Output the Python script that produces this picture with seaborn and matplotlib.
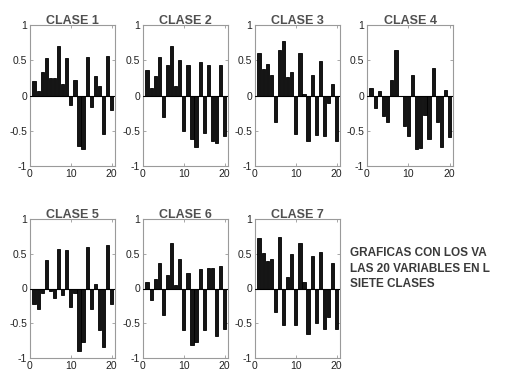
import numpy as np
import pandas as pd
import matplotlib
matplotlib.use("Agg")
import matplotlib.pyplot as plt
import seaborn as sns

variables = list(range(1, 21))
clase1 = [0.20, 0.06, 0.33, 0.53, 0.25, 0.25, 0.70, 0.17, 0.53, -0.13,
          0.22, -0.72, -0.76, 0.55, -0.16, 0.28, 0.13, -0.55, 0.56, -0.21]
clase2 = [0.36, 0.10, 0.28, 0.55, -0.31, 0.43, 0.70, 0.14, 0.50, -0.50,
          0.43, -0.62, -0.73, 0.47, -0.53, 0.43, -0.64, -0.67, 0.43, -0.57]
clase3 = [0.60, 0.37, 0.44, 0.29, -0.37, 0.64, 0.78, 0.26, 0.33, -0.55,
          0.60, 0.02, -0.65, 0.29, -0.56, 0.49, -0.58, -0.10, 0.16, -0.65]
clase4 = [0.10, -0.18, 0.06, -0.29, -0.37, 0.22, 0.64, 0.00, -0.43, -0.57,
          0.29, -0.76, -0.75, -0.28, -0.62, 0.39, -0.37, -0.73, 0.08, -0.59]
clase5 = [-0.22, -0.29, -0.06, 0.41, -0.03, -0.13, 0.57, -0.09, 0.55, -0.27,
          -0.06, -0.90, -0.77, 0.59, -0.29, 0.07, -0.60, -0.84, 0.62, -0.22]
clase6 = [0.09, -0.16, 0.14, 0.36, -0.38, 0.19, 0.66, 0.05, 0.42, -0.59,
          0.22, -0.81, -0.77, 0.28, -0.60, 0.30, 0.29, -0.68, 0.33, -0.58]
clase7 = [0.72, 0.51, 0.39, 0.42, -0.34, 0.74, -0.53, 0.16, 0.49, -0.52,
          0.66, 0.09, -0.66, 0.47, -0.50, 0.53, -0.58, -0.41, 0.36, -0.58]

titles = ["CLASE 1", "CLASE 2", "CLASE 3", "CLASE 4", "CLASE 5", "CLASE 6", "CLASE 7"]
series = [clase1, clase2, clase3, clase4, clase5, clase6, clase7]
yticks = [-1, -0.5, 0, 0.5, 1]
ytick_labels = ["-1", "-0.5", "0", "0.5", "1"]
xticks = [0, 10, 20]
# text as visible in the reference (cut by the image's right edge)
note_lines = ["GRAFICAS CON LOS VA", "LAS 20 VARIABLES EN L", "SIETE CLASES"]

sns.set_theme(style="white")
plt.rcParams["font.family"] = ["Liberation Sans", "DejaVu Sans"]

W, H = 506, 370
fig = plt.figure(figsize=(W / 100, H / 100), dpi=100)
fig.patch.set_facecolor("white")

cols = [(30, 115), (143, 228), (255, 340), (367, 453)]
rows = [(25, 166), (219, 358)]

for i, (title, vals) in enumerate(zip(titles, series)):
    r, c = divmod(i, 4)
    x0, x1 = cols[c]
    y0, y1 = rows[r]
    ax = fig.add_axes([x0 / W, 1 - y1 / H, (x1 - x0) / W, (y1 - y0) / H])
    df = pd.DataFrame({"variable": variables, "valor": vals})
    sns.barplot(data=df, x="variable", y="valor", native_scale=True,
                color="#151515", edgecolor="#000000", linewidth=0.6,
                width=0.8, saturation=1, ax=ax, errorbar=None)
    ax.axhline(0, color="#000000", linewidth=0.8, zorder=3)
    ax.set_xlim(0, 20.8)
    ax.set_ylim(-1, 1)
    ax.set_xticks(xticks)
    ax.set_xticklabels([str(t) for t in xticks])
    ax.set_yticks(yticks)
    ax.set_yticklabels(ytick_labels)
    ax.set_xlabel("")
    ax.set_ylabel("")
    ax.tick_params(axis="both", direction="in", length=2, width=0.6,
                   labelsize=7.5, colors="#999999", labelcolor="#222222",
                   pad=2, top=True, right=True, bottom=True, left=True)
    for s in ax.spines.values():
        s.set_color("#9a9a9a")
        s.set_linewidth(0.8)
    ax.set_title(title, fontsize=9, fontweight="bold", color="#505050", pad=1)

y_text = [253, 269, 284]
for line, yy in zip(note_lines, y_text):
    fig.text(350 / W, 1 - yy / H, line, fontsize=8.5, fontweight="bold",
             color="#3a3a3a", va="center", ha="left")

fig.savefig("out.png", dpi=100, facecolor="white")
